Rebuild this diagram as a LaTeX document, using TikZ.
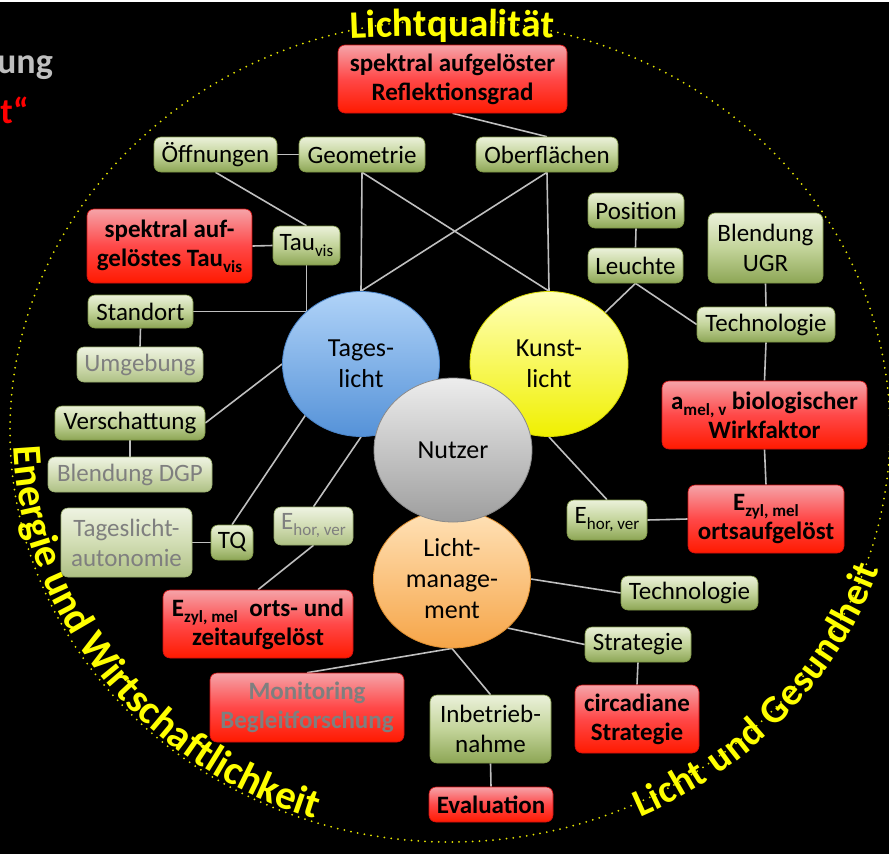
\documentclass[tikz,border=0pt]{standalone}
\usepackage{fontspec}
\setmainfont{Carlito}
\usetikzlibrary{shapes.geometric,decorations.text}
\pgfdeclarelayer{bg}
\pgfsetlayers{bg,main}
\definecolor{gtop}{HTML}{EBF1DA}
\definecolor{gmid}{HTML}{C3D49A}
\definecolor{gbot}{HTML}{8DA655}
\definecolor{gedge}{HTML}{7F9646}
\definecolor{ftop}{HTML}{EEF3E2}
\definecolor{fmid}{HTML}{D2DDB4}
\definecolor{fbot}{HTML}{AEC084}
\definecolor{fedge}{HTML}{9AAE6E}
\definecolor{rtop}{HTML}{F5A3A8}
\definecolor{rmid}{HTML}{FF4848}
\definecolor{rbot}{HTML}{FF1A00}
\definecolor{redge}{HTML}{D01010}
\definecolor{lgray}{HTML}{BFBFBF}
\definecolor{txtgray}{HTML}{7F7F7F}
\definecolor{ungray}{HTML}{BFBFBF}
\definecolor{ytext}{HTML}{FFFF00}
\definecolor{ydot}{HTML}{E6E600}
\definecolor{btop}{HTML}{B0D3F8}
\definecolor{bbot}{HTML}{5592D8}
\definecolor{bedge}{HTML}{4A84C8}
\definecolor{ytop}{HTML}{FFFFB8}
\definecolor{ybot}{HTML}{F0F000}
\definecolor{yedge}{HTML}{D8D800}
\definecolor{ntop}{HTML}{EDEDED}
\definecolor{nbot}{HTML}{9E9E9E}
\definecolor{nedge}{HTML}{8A8A8A}
\definecolor{otop}{HTML}{FFE2B8}
\definecolor{obot}{HTML}{F6A548}
\definecolor{oedge}{HTML}{E09030}
\newcommand\sbs[1]{{\fontsize{17}{17}\selectfont\raisebox{-6pt}{#1}}}
\newcommand\ctext{\fontsize{39}{39}\selectfont\bfseries}
\newcommand\ctextb{\fontsize{41}{41}\selectfont\bfseries}
\tikzset{
  box/.style={rounded corners=7pt, inner sep=0pt, align=center, font=\fontsize{25}{30}\selectfont, text=black, line width=0.6pt},
  gbox/.style={box, top color=gtop, bottom color=gbot, middle color=gmid, draw=gedge},
  fbox/.style={box, top color=ftop, bottom color=fbot, middle color=fmid, draw=fedge, text=txtgray},
  rbox/.style={box, font=\fontsize{25}{29}\selectfont\bfseries, top color=rtop, bottom color=rbot, middle color=rmid, draw=redge},
  circ/.style={ellipse, inner sep=0pt, align=center, font=\fontsize{26}{31}\selectfont, text=black, line width=0.8pt},
  con/.style={draw=lgray, line width=1.6pt},
  dotline/.style={draw=ydot, line width=2pt, line cap=round, dash pattern=on 0pt off 6.8pt},
  arctext/.style 2 args={decorate, decoration={text along path, text={#1}, text color=ytext, text align=center, raise=#2}}
}
\begin{document}
\begin{tikzpicture}[x=1pt,y=-1pt]
\useasboundingbox (0,0) rectangle (889,854);
\clip (0,0) rectangle (889,854);

% circles
\node[circ, top color=btop, bottom color=bbot, draw=bedge, minimum width=157pt, minimum height=145pt] (tl) at (361,364) {Tages-\\licht};
\node[circ, top color=ytop, bottom color=ybot, draw=yedge, minimum width=158pt, minimum height=145pt] (kl) at (549,364) {Kunst-\\licht};
\node[circ, top color=otop, bottom color=obot, draw=oedge, minimum width=157pt, minimum height=138pt] (lm) at (452,579) {Licht-\\manage-\\ment};
\node[circ, top color=ntop, bottom color=nbot, draw=nedge, minimum width=158pt, minimum height=144pt] (nu) at (453,450) {Nutzer};

% boxes
\node[rbox, minimum width=229pt, minimum height=68pt] (refl) at (452.5,79) {spektral aufgelöster\\Reflektionsgrad};
\node[gbox, minimum width=123pt, minimum height=35pt] (oeff) at (215.5,154.5) {Öffnungen};
\node[gbox, minimum width=126pt, minimum height=35pt] (geom) at (362,154.5) {Geometrie};
\node[gbox, minimum width=142pt, minimum height=35pt] (ober) at (547,154.5) {Oberflächen};
\node[gbox, minimum width=67pt, minimum height=39pt] (tau) at (306.5,245.5) {Tau\sbs{vis}};
\node[rbox, minimum width=165pt, minimum height=74pt] (spektau) at (169.5,246) {spektral auf-\\gelöstes Tau\sbs{vis}};
\node[gbox, minimum width=105pt, minimum height=33pt] (standort) at (140.5,311.5) {Standort};
\node[fbox, minimum width=126pt, minimum height=35pt] (umgeb) at (140,364.5) {Umgebung};
\node[gbox, minimum width=150pt, minimum height=34pt] (versch) at (130,423) {Verschattung};
\node[fbox, minimum width=164pt, minimum height=35pt] (dgp) at (130,474.5) {Blendung DGP};
\node[fbox, minimum width=131pt, minimum height=69pt] (auto) at (126.5,542.5) {Tageslicht-\\autonomie};
\node[gbox, minimum width=42pt, minimum height=35pt] (tq) at (232,542.5) {TQ};
\node[fbox, minimum width=79pt, minimum height=38pt] (ehorl) at (313.5,526) {E\sbs{hor, ver}};
\node[rbox, minimum width=190pt, minimum height=68pt] (ezyll) at (258,624) {E\sbs{zyl, mel}\hspace{6pt} orts- und\\zeitaufgelöst};
\node[rbox, text=txtgray, minimum width=194pt, minimum height=69pt] (monit) at (307,707.5) {Monitoring\\Begleitforschung};
\node[gbox, minimum width=121pt, minimum height=68pt] (inbetr) at (490.5,729) {Inbetrieb-\\nahme};
\node[rbox, minimum width=124pt, minimum height=35pt] (eval) at (491,804.5) {Evaluation};
\node[rbox, minimum width=124pt, minimum height=68pt] (circ) at (637,719) {circadiane\\Strategie};
\node[gbox, minimum width=106pt, minimum height=35pt] (strat) at (638,644.5) {Strategie};
\node[gbox, minimum width=137pt, minimum height=34pt] (techb) at (689.5,593) {Technologie};
\node[gbox, minimum width=80pt, minimum height=40pt] (ehorr) at (607,520) {E\sbs{hor, ver}};
\node[rbox, minimum width=156pt, minimum height=68pt] (ezylr) at (766,519) {E\sbs{zyl, mel}\\ortsaufgelöst};
\node[rbox, minimum width=205pt, minimum height=68pt] (amel) at (764.5,415) {a\sbs{mel, v} biologischer\\Wirkfaktor};
\node[gbox, minimum width=138pt, minimum height=35pt] (techt) at (766,324.5) {Technologie};
\node[gbox, minimum width=115pt, minimum height=70pt] (ugr) at (765.5,248) {Blendung\\UGR};
\node[gbox, minimum width=95pt, minimum height=35pt] (leuchte) at (635.5,265.5) {Leuchte};
\node[gbox, minimum width=96pt, minimum height=35pt] (position) at (636,210.5) {Position};

% cut title fragments
\node[anchor=base east, inner sep=0pt, font=\fontsize{36}{36}\selectfont\bfseries, text=ungray] (t1) at (53,73) {ung};
\node[anchor=base east, inner sep=0pt, font=\fontsize{36}{36}\selectfont\bfseries, text=red] (t2) at (29,123) {t“};

\begin{pgfonlayer}{bg}
\fill[black] (0,0) rectangle (889,854);
\fill[white] (0,0) rectangle (889,1.5);
\draw[dotline] (450,431) ellipse[x radius=440, y radius=411];
\coordinate (j1) at (tau.south |- standort.east);
\draw[con] (refl.south) -- (ober.north);
\draw[con] (oeff.east) -- (geom.west);
\draw[con] (oeff.south) -- (tau.north);
\draw[con] (tau.west) -- (spektau.east);
\draw[con] (tau.south) -- (j1) -- (standort.east);
\draw[con] (standort.south) -- (umgeb.north);
\draw[con] (versch.east) -- (tl.west);
\draw[con] (versch.south) -- (dgp.north);
\draw[con] (tq.north) -- (tl.south west);
\draw[con] (tq.west) -- (auto.east);
\draw[con] (ehorl.north) -- (tl.south);
\draw[con] (ehorl.south) -- (ezyll.north);
\draw[con] (geom.south) -- (tl.north);
\draw[con] (geom.south) -- (kl.north);
\draw[con] (ober.south) -- (tl.north);
\draw[con] (ober.south) -- (kl.north);
\draw[con] (leuchte.south) -- (kl.north east);
\draw[con] (leuchte.south) -- (techt.west);
\draw[con] (position.south) -- (leuchte.north);
\draw[con] (ugr.south) -- (techt.north);
\draw[con] (techt.south) -- (amel.north);
\draw[con] (amel.south) -- (ezylr.north);
\draw[con] (ezylr.west) -- (ehorr.east);
\draw[con] (kl.south) -- (ehorr.north);
\draw[con] (lm.east) -- (techb.west);
\draw[con] (lm.south east) -- (strat.west);
\draw[con] (strat.south) -- (circ.north);
\draw[con] (lm.south) -- (inbetr.north);
\draw[con] (lm.south) -- (monit.north);
\draw[con] (inbetr.south) -- (eval.north);
\end{pgfonlayer}

% curved labels
\path[arctext={|\ctext|Lichtqualität}{0pt}] (452,2536) ++(262:2500) arc[start angle=262, end angle=278, radius=2500];
\path[arctext={|\ctextb|Energie und Wirtschaftlichkeit}{3pt}] (450,431) ++(197:440 and 411) arc[start angle=197, end angle=90, x radius=440, y radius=411];
\path[arctext={|\ctext|Licht und Gesundheit}{-14pt}] (450,431) ++(83:440 and 411) arc[start angle=83, end angle=0, x radius=440, y radius=411];
\end{tikzpicture}
\end{document}
